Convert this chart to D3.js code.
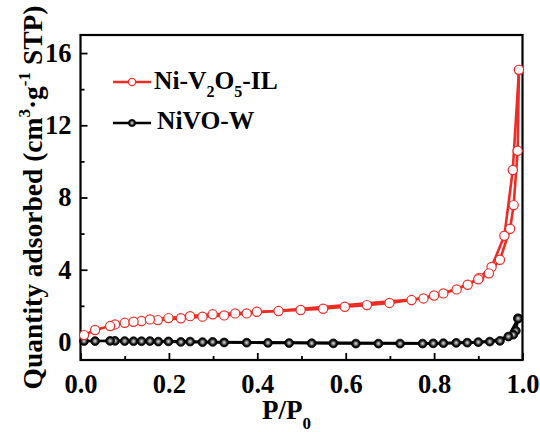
<!DOCTYPE html>
<html>
<head>
<meta charset="utf-8">
<script src="https://cdn.jsdelivr.net/npm/d3@7"></script>
<style>
  html, body { margin: 0; padding: 0; background: #fff; }
  text { font-family: "Liberation Serif", "Times New Roman", serif; font-weight: bold; fill: #000; }
</style>
</head>
<body>
<svg id="chart" width="540" height="432"></svg>
<script>
// N2 isotherms: [P/P0, quantity adsorbed]
const redAdsorption = [
  [0.008, 0.38], [0.033, 0.66], [0.067, 0.88], [0.100, 1.06], [0.120, 1.12],
  [0.157, 1.25], [0.199, 1.32], [0.248, 1.43], [0.299, 1.53], [0.350, 1.58],
  [0.399, 1.67], [0.448, 1.71], [0.498, 1.77], [0.549, 1.84], [0.598, 1.95],
  [0.648, 2.04], [0.699, 2.16], [0.749, 2.32], [0.800, 2.57], [0.851, 2.91],
  [0.900, 3.47], [0.924, 3.80], [0.949, 4.55], [0.972, 6.27], [0.980, 7.58],
  [0.989, 10.59], [0.992, 15.07]
];
const redDesorption = [
  [0.992, 15.07], [0.978, 9.52], [0.959, 5.88], [0.930, 4.15], [0.902, 3.55],
  [0.876, 3.17], [0.821, 2.69], [0.776, 2.41], [0.376, 1.58], [0.325, 1.47],
  [0.276, 1.40], [0.227, 1.31], [0.175, 1.21], [0.138, 1.16], [0.078, 0.97]
];
const blackAdsorption = [
  [0.008, 0.05], [0.033, 0.05], [0.067, 0.06], [0.100, 0.05], [0.138, 0.04],
  [0.176, 0.02], [0.227, 0.00], [0.276, -0.01], [0.325, -0.03], [0.376, -0.04],
  [0.424, -0.05], [0.472, -0.06], [0.523, -0.07], [0.572, -0.08], [0.623, -0.09],
  [0.674, -0.09], [0.723, -0.09], [0.774, -0.09], [0.821, -0.07], [0.875, -0.04],
  [0.926, 0.02], [0.968, 0.30], [0.990, 1.30]
];
const blackDesorption = [
  [0.990, 1.30], [0.985, 0.62], [0.979, 0.40], [0.949, 0.06], [0.900, -0.01],
  [0.850, -0.05], [0.798, -0.08], [0.299, 0.00], [0.248, 0.02], [0.199, 0.03],
  [0.157, 0.05], [0.120, 0.04], [0.078, 0.06]
];
const xMajorTicks = [0, 0.2, 0.4, 0.6, 0.8, 1.0];
const xMinorTicks = [0.1, 0.3, 0.5, 0.7, 0.9];
const yMajorTicks = [0, 4, 8, 12, 16];
const yMinorTicks = [2, 6, 10, 14];
const seriesNames = ["Ni-V", "NiVO-W"];

const RED = "#ee2c24";
const svg = d3.select("#chart");
svg.append("rect").attr("width", 540).attr("height", 432).attr("fill", "#fff");

const defs = svg.append("defs");
const grad = defs.append("radialGradient").attr("id", "ball")
  .attr("cx", "50%").attr("cy", "50%").attr("r", "50%");
grad.append("stop").attr("offset", "0%").attr("stop-color", "#e0e0e0");
grad.append("stop").attr("offset", "35%").attr("stop-color", "#808080");
grad.append("stop").attr("offset", "70%").attr("stop-color", "#111");
grad.append("stop").attr("offset", "100%").attr("stop-color", "#000");

const x = d3.scaleLinear().domain([0, 1]).range([80.5, 522.5]);
const y = d3.scaleLinear().domain([-1, 17]).range([360, 35]);

// axes with inward ticks
svg.append("g").attr("transform", "translate(0,360)")
  .call(d3.axisBottom(x).tickValues(xMajorTicks).tickSize(-7).tickPadding(14)
    .tickFormat(d3.format(".1f")));
svg.append("g").attr("transform", "translate(0,360)")
  .call(d3.axisBottom(x).tickValues(xMinorTicks).tickSize(-4).tickFormat(""));
svg.append("g").attr("transform", "translate(80.5,0)")
  .call(d3.axisLeft(y).tickValues(yMajorTicks).tickSize(-7).tickPadding(9)
    .tickFormat(d3.format("d")));
svg.append("g").attr("transform", "translate(80.5,0)")
  .call(d3.axisLeft(y).tickValues(yMinorTicks).tickSize(-4).tickFormat(""));
svg.selectAll(".domain").remove();
svg.selectAll(".tick line").attr("stroke", "#000").attr("stroke-width", 1.8);
svg.selectAll(".tick text").style("font-size", "26.5px")
  .style("font-family", "'Liberation Serif', serif").style("font-weight", "bold");

// plot frame
svg.append("rect")
  .attr("x", x(0)).attr("y", y(17))
  .attr("width", x(1) - x(0)).attr("height", y(-1) - y(17))
  .attr("fill", "none").attr("stroke", "#000").attr("stroke-width", 2.2);

const line = d3.line().x(d => x(d[0])).y(d => y(d[1]));

function drawLine(data, color) {
  svg.append("path").datum(data).attr("d", line)
    .attr("fill", "none").attr("stroke", color)
    .attr("stroke-width", 2.6).attr("stroke-linejoin", "round");
}
function drawOpen(data) {
  svg.append("g").selectAll("circle").data(data).join("circle")
    .attr("cx", d => x(d[0])).attr("cy", d => y(d[1])).attr("r", 4.6)
    .attr("fill", "#fff").attr("stroke", RED).attr("stroke-width", 1.2);
}
function drawBall(data) {
  svg.append("g").selectAll("circle").data(data).join("circle")
    .attr("cx", d => x(d[0])).attr("cy", d => y(d[1])).attr("r", 4.4)
    .attr("fill", "url(#ball)").attr("stroke", "#000").attr("stroke-width", 0.8);
}

drawLine(blackAdsorption, "#000");
drawLine(blackDesorption, "#000");
drawBall(blackDesorption);
drawBall(blackAdsorption);

drawLine(redAdsorption, RED);
drawLine(redDesorption, RED);
drawOpen(redDesorption);
drawOpen(redAdsorption);

// legend
svg.append("line").attr("x1", 113).attr("x2", 151).attr("y1", 82).attr("y2", 82)
  .attr("stroke", RED).attr("stroke-width", 2.6);
svg.append("circle").attr("cx", 132).attr("cy", 82).attr("r", 3.6)
  .attr("fill", "#fff").attr("stroke", RED).attr("stroke-width", 1.2);
const t1 = svg.append("text").attr("x", 154).attr("y", 89).style("font-size", "25.5px");
t1.append("tspan").text(seriesNames[0]);
t1.append("tspan").attr("dy", 8).style("font-size", "16px").text("2");
t1.append("tspan").attr("dy", -8).text("O");
t1.append("tspan").attr("dy", 8).style("font-size", "16px").text("5");
t1.append("tspan").attr("dy", -8).text("-IL");

svg.append("line").attr("x1", 113).attr("x2", 151).attr("y1", 123).attr("y2", 123)
  .attr("stroke", "#000").attr("stroke-width", 2.6);
svg.append("circle").attr("cx", 132).attr("cy", 123).attr("r", 3.6)
  .attr("fill", "url(#ball)").attr("stroke", "#000").attr("stroke-width", 0.8);
svg.append("text").attr("x", 157).attr("y", 129).style("font-size", "25.5px").text(seriesNames[1]);

// axis titles
const xt = svg.append("text").attr("x", 262).attr("y", 419).style("font-size", "27px");
xt.append("tspan").text("P/P");
xt.append("tspan").attr("dy", 10).style("font-size", "17px").text("0");

const yt = svg.append("text")
  .attr("transform", "translate(42,197.5) rotate(-90)")
  .attr("text-anchor", "middle").style("font-size", "27.5px");
yt.append("tspan").text("Quantity adsorbed (cm");
yt.append("tspan").attr("dy", -12).style("font-size", "17px").text("3");
yt.append("tspan").attr("dy", 12).text("·g");
yt.append("tspan").attr("dy", -12).style("font-size", "17px").text("-1");
yt.append("tspan").attr("dy", 12).text(" STP)");
</script>
</body>
</html>
